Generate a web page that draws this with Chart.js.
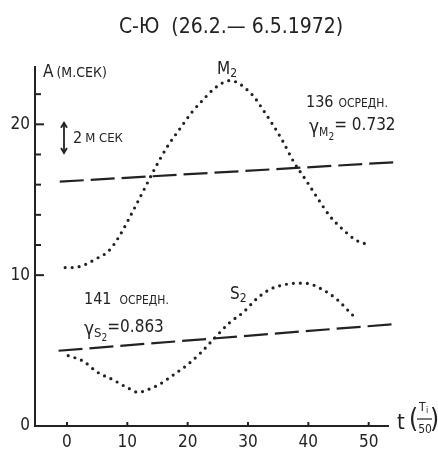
<!DOCTYPE html>
<html>
<head>
<meta charset="utf-8">
<script src="https://cdn.jsdelivr.net/npm/chart.js@4.4.1/dist/chart.umd.min.js"></script>
<style>
  html, body { margin: 0; padding: 0; background: #fff; }
  canvas { display: block; }
</style>
</head>
<body>
<canvas id="ampChart" width="438" height="453"></canvas>
<script>
// M2 amplitude (dotted curve)
const m2Times = [-0.3, 0.8, 1.9, 3.0, 4.9, 6.9, 8.7, 10.8, 12.8, 14.6, 16.6, 18.7, 20.7, 22.6, 24.5, 27.0, 30.6, 32.6, 35.6, 37.6, 39.6, 41.7, 43.6, 45.8, 48.0, 49.7];
const m2Values = [10.5, 10.5, 10.55, 10.7, 11.1, 11.6, 12.6, 14.15, 15.7, 17.1, 18.5, 19.7, 20.8, 21.65, 22.4, 22.9, 22.0, 20.9, 19.0, 17.5, 16.3, 15.0, 13.9, 13.0, 12.3, 12.05];

// S2 amplitude (dotted curve)
const s2Times = [0.2, 2.7, 4.9, 7.7, 10.2, 11.8, 13.2, 15.4, 17.6, 19.9, 22.1, 24.3, 27.0, 29.2, 31.5, 33.7, 36.4, 38.1, 39.8, 42.0, 44.7, 46.9, 48.0];
const s2Values = [4.66, 4.3, 3.6, 3.05, 2.5, 2.23, 2.38, 2.78, 3.38, 4.04, 4.83, 5.76, 6.87, 7.53, 8.46, 9.07, 9.40, 9.47, 9.45, 9.12, 8.41, 7.53, 7.09];

// averaged (trend) lines, two end points each
const m2TrendTimes = [-1.2, 54.9];
const m2TrendValues = [16.2, 17.5];
const s2TrendTimes = [-1.4, 54.1];
const s2TrendValues = [4.99, 6.75];

// axis ticks
const xTickValues = [0, 10, 20, 30, 40, 50];
const yLabelValues = [0, 10, 20];
const yMinorTicks = [10, 12, 14, 16, 18, 20, 22];

const INK = '#222';
const FONT = '"DejaVu Sans Condensed", "DejaVu Sans", sans-serif';

const toPoints = (xs, ys) => xs.map((x, i) => ({ x, y: ys[i] }));

const dotted = {
    borderColor: INK,
    borderWidth: 3.2,
    borderDash: [0, 7],
    borderCapStyle: 'round',
    pointRadius: 0,
    cubicInterpolationMode: 'monotone',
    fill: false
};

const dashed = {
    borderColor: INK,
    borderWidth: 2.2,
    borderDash: [24, 7],
    pointRadius: 0,
    fill: false,
    clip: false
};

function txt(ctx, s, x, y, size, align) {
    ctx.font = size + 'px ' + FONT;
    ctx.textAlign = align || 'left';
    ctx.fillText(s, x, y);
    return ctx.measureText(s).width;
}

// labels, inward ticks and the scale arrow
const annotations = {
    id: 'annotations',
    afterDraw(chart) {
        const ctx = chart.ctx;
        const xs = chart.scales.x, ys = chart.scales.y;
        const left = chart.chartArea.left, bottom = chart.chartArea.bottom;
        ctx.save();
        ctx.strokeStyle = INK;
        ctx.fillStyle = INK;
        ctx.lineWidth = 2;

        // y ticks pointing into the plot
        yMinorTicks.forEach(v => {
            const y = ys.getPixelForValue(v);
            const len = (v % 10 === 0) ? 9 : 6;
            ctx.beginPath();
            ctx.moveTo(left, y);
            ctx.lineTo(left + len, y);
            ctx.stroke();
        });
        // x ticks pointing up
        xTickValues.forEach(v => {
            const x = xs.getPixelForValue(v);
            ctx.beginPath();
            ctx.moveTo(x, bottom);
            ctx.lineTo(x, bottom - 4);
            ctx.stroke();
        });

        ctx.textBaseline = 'middle';

        // title
        txt(ctx, 'С-Ю  (26.2.— 6.5.1972)', 231, 28, 21, 'center');

        // y axis caption
        let w = txt(ctx, 'A', 43, 73, 17);
        txt(ctx, '(М.СЕК)', 43 + w + 3, 73, 14);

        // scale arrow: 2 m/s
        const ax = 64, y1 = ys.getPixelForValue(20.1), y2 = ys.getPixelForValue(18.1);
        ctx.lineWidth = 1.8;
        ctx.beginPath();
        ctx.moveTo(ax, y1); ctx.lineTo(ax, y2);
        ctx.stroke();
        ctx.beginPath();
        ctx.moveTo(ax - 3, y1 + 5); ctx.lineTo(ax, y1); ctx.lineTo(ax + 3, y1 + 5);
        ctx.moveTo(ax - 3, y2 - 5); ctx.lineTo(ax, y2); ctx.lineTo(ax + 3, y2 - 5);
        ctx.stroke();
        w = txt(ctx, '2', 73, 139, 16);
        txt(ctx, 'М СЕК', 73 + w + 3, 139, 13);

        // M2 block
        w = txt(ctx, 'M', 217, 70, 17);
        txt(ctx, '2', 217 + w, 74, 12);
        w = txt(ctx, '136', 306, 103, 16);
        txt(ctx, 'ОСРЕДН.', 306 + w + 5, 104, 12);
        w = txt(ctx, 'γ', 309, 128, 19);
        let w2 = txt(ctx, 'M', 309 + w, 133, 12);
        let w3 = txt(ctx, '2', 309 + w + w2, 137, 10);
        txt(ctx, '= 0.732', 309 + w + w2 + w3, 126, 17);

        // S2 block
        w = txt(ctx, 'S', 230, 295, 17);
        txt(ctx, '2', 230 + w, 299, 12);
        w = txt(ctx, '141', 84, 300, 16);
        txt(ctx, 'ОСРЕДН.', 84 + w + 8, 301, 12);
        w = txt(ctx, 'γ', 84, 330, 19);
        w2 = txt(ctx, 'S', 84 + w, 334, 13);
        w3 = txt(ctx, '2', 84 + w + w2, 338, 10);
        txt(ctx, '=0.863', 84 + w + w2 + w3, 328, 17);

        // x axis caption t(Ti/50)
        txt(ctx, 't', 397, 423, 22);
        ctx.font = '26px ' + FONT;
        ctx.fillText('(', 409, 420);
        ctx.fillText(')', 430, 420);
        txt(ctx, 'T', 419, 408, 12);
        txt(ctx, 'i', 426, 411, 9);
        ctx.lineWidth = 1.2;
        ctx.beginPath();
        ctx.moveTo(417, 419); ctx.lineTo(432, 419);
        ctx.stroke();
        txt(ctx, '50', 425, 430, 12, 'center');

        ctx.restore();
    }
};

new Chart(document.getElementById('ampChart'), {
    type: 'line',
    data: {
        datasets: [
            Object.assign({ label: 'M2', data: toPoints(m2Times, m2Values) }, dotted),
            Object.assign({ label: 'S2', data: toPoints(s2Times, s2Values) }, dotted),
            Object.assign({ label: 'M2 avg', data: toPoints(m2TrendTimes, m2TrendValues) }, dashed),
            Object.assign({ label: 'S2 avg', data: toPoints(s2TrendTimes, s2TrendValues) }, dashed)
        ]
    },
    options: {
        responsive: false,
        devicePixelRatio: 1,
        animation: false,
        layout: { padding: { top: 67, right: 50, left: 0, bottom: 0 } },
        plugins: {
            legend: { display: false },
            title: { display: false },
            tooltip: { enabled: false }
        },
        scales: {
            x: {
                type: 'linear',
                min: -5.3,
                max: 53.2,
                afterFit: s => { s.height = 27; },
                afterBuildTicks: s => { s.ticks = xTickValues.map(v => ({ value: v })); },
                grid: { display: false, drawTicks: false },
                border: { display: true, color: INK, width: 2 },
                ticks: { color: INK, padding: 6, font: { family: FONT, size: 17 } }
            },
            y: {
                type: 'linear',
                min: 0,
                max: 23.8,
                afterFit: s => { s.width = 35; },
                afterBuildTicks: s => { s.ticks = yLabelValues.map(v => ({ value: v })); },
                grid: { display: false, drawTicks: false },
                border: { display: true, color: INK, width: 2 },
                ticks: { color: INK, padding: 5, font: { family: FONT, size: 17 } }
            }
        }
    },
    plugins: [annotations]
});
</script>
</body>
</html>
